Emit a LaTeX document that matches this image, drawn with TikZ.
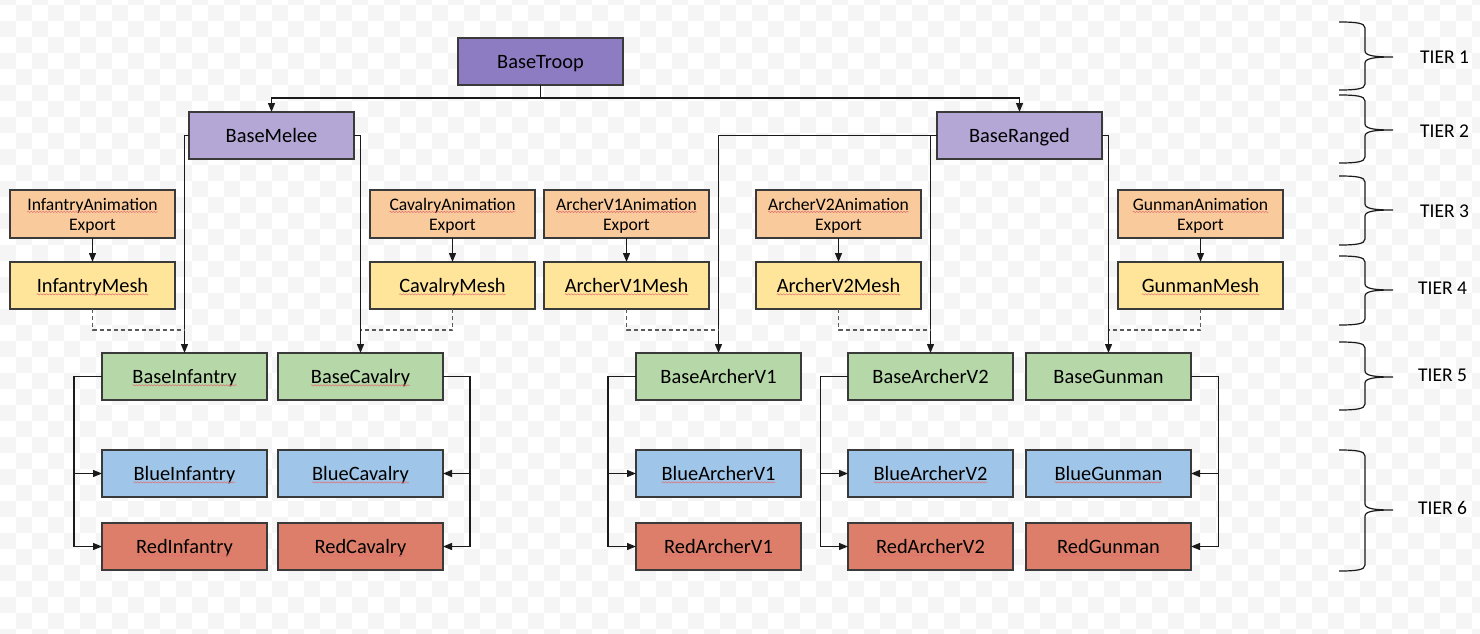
\documentclass[tikz,border=0pt]{standalone}
\usepackage{fontspec}
\setmainfont{Carlito}
\usetikzlibrary{arrows.meta,decorations.pathmorphing}
\definecolor{cTroop}{HTML}{8E7CC3}
\definecolor{cMid}{HTML}{B4A7D6}
\definecolor{cAnim}{HTML}{F9CB9C}
\definecolor{cMesh}{HTML}{FFE599}
\definecolor{cBase}{HTML}{B6D7A8}
\definecolor{cBlue}{HTML}{9FC5E8}
\definecolor{cRed}{HTML}{DD7E6B}
\definecolor{bordc}{HTML}{3A3A3A}
\definecolor{linec}{HTML}{1A1A1A}
\definecolor{dashc}{HTML}{5A5A5A}
\definecolor{bgsqc}{HTML}{F5F5F5}
\definecolor{squigc}{HTML}{E07070}
\newcommand\sq[1]{\tikz[baseline=(sqt.base)]{\node[inner sep=0pt,outer sep=0pt,draw=none,fill=none,minimum width=0pt,minimum height=0pt,text depth=,text height=,anchor=center](sqt){#1};\draw[squigc,line width=0.5pt,decorate,decoration={snake,amplitude=0.7pt,segment length=3pt}]([yshift=-1.8pt]sqt.base west)--([yshift=-1.8pt]sqt.base east);}}
\newcommand\tierbrace[3]{%
  \draw[brc] (1339,#1) .. controls (1356,#1) and (1365,#1+1) .. (1365,#1+6)
    -- (1365,#2-6) .. controls (1365,#2-1) and (1376,#2) .. (1393,#2)
    .. controls (1376,#2) and (1365,#2+1) .. (1365,#2+6)
    -- (1365,#3-6) .. controls (1365,#3-1) and (1356,#3) .. (1339,#3);}
\begin{document}
\begin{tikzpicture}[x=1pt,y=-1pt,
  box/.style={draw=bordc,line width=1.2pt,minimum width=165pt,minimum height=47pt,inner sep=0pt,outer sep=0pt,anchor=north west,text=black,text depth=0pt,font=\fontsize{20.4}{22}\selectfont},
  smallbox/.style={box,minimum height=48pt,align=center,text depth=0pt,font=\fontsize{17.6}{20}\selectfont},
  conn/.style={draw=linec,line width=1.2pt},
  arr/.style={conn,-{Triangle[length=9pt,width=7pt]}},
  dsh/.style={draw=dashc,line width=1.3pt,dash pattern=on 4pt off 3pt},
  brc/.style={draw=linec,line width=1.2pt},
  tier/.style={anchor=west,inner sep=0pt,text=black,font=\fontsize{19.5}{20}\selectfont},
  bgsq/.style={fill=bgsqc}]
\useasboundingbox (0,0) rectangle (1480,634);
\begin{scope}
\clip (0,0) rectangle (1480,634);
\fill[white] (0,0) rectangle (1480,634);
\foreach \r in {0,...,40}{
  \pgfmathtruncatemacro{\s}{mod(\r,2)}
  \foreach \c in {0,2,...,92}{
    \fill[bgsq] ({16*(\c+\s)},{-11+16*\r}) rectangle ++(16,16);
  }
}
\end{scope}

% Tier 1-2
\node[box,fill=cTroop] (bt) at (458,38) {BaseTroop};
\node[box,fill=cMid] (bm) at (189,112) {BaseMelee};
\node[box,fill=cMid] (br) at (937,112) {BaseRanged};
% Tier 3
\node[smallbox,fill=cAnim] (ia) at (10,190) {\sq{InfantryAnimation}\\Export};
\node[smallbox,fill=cAnim] (ca) at (370,190) {\sq{CavalryAnimation}\\Export};
\node[smallbox,fill=cAnim] (a1a) at (544,190) {\sq{ArcherV1Animation}\\Export};
\node[smallbox,fill=cAnim] (a2a) at (756,190) {\sq{ArcherV2Animation}\\Export};
\node[smallbox,fill=cAnim] (ga) at (1118,190) {\sq{GunmanAnimation}\\Export};
% Tier 4
\node[box,fill=cMesh] (im) at (10,262) {\sq{InfantryMesh}};
\node[box,fill=cMesh] (cm) at (370,262) {\sq{CavalryMesh}};
\node[box,fill=cMesh] (a1m) at (544,262) {\sq{ArcherV1Mesh}};
\node[box,fill=cMesh] (a2m) at (756,262) {\sq{ArcherV2Mesh}};
\node[box,fill=cMesh] (gm) at (1118,262) {\sq{GunmanMesh}};
% Tier 5
\node[box,fill=cBase] (bi) at (102,353) {\sq{BaseInfantry}};
\node[box,fill=cBase] (bc) at (278,353) {\sq{BaseCavalry}};
\node[box,fill=cBase] (ba1) at (636,353) {BaseArcherV1};
\node[box,fill=cBase] (ba2) at (848,353) {BaseArcherV2};
\node[box,fill=cBase] (bg) at (1026,353) {BaseGunman};
% Tier 6
\node[box,fill=cBlue] (bli) at (102,450) {\sq{BlueInfantry}};
\node[box,fill=cBlue] (blc) at (278,450) {\sq{BlueCavalry}};
\node[box,fill=cBlue] (bla1) at (636,450) {\sq{BlueArcherV1}};
\node[box,fill=cBlue] (bla2) at (848,450) {\sq{BlueArcherV2}};
\node[box,fill=cBlue] (blg) at (1026,450) {\sq{BlueGunman}};
\node[box,fill=cRed] (ri) at (102,523) {\sq{RedInfantry}};
\node[box,fill=cRed] (rc) at (278,523) {\sq{RedCavalry}};
\node[box,fill=cRed] (ra1) at (636,523) {\sq{RedArcherV1}};
\node[box,fill=cRed] (ra2) at (848,523) {\sq{RedArcherV2}};
\node[box,fill=cRed] (rg) at (1026,523) {\sq{RedGunman}};

% Tier 1 -> 2
\coordinate (tj) at (540.5,98);
\draw[conn] (bt.south) -- (tj);
\draw[arr] (tj) -| (bm.north);
\draw[arr] (tj) -| (br.north);

% Tier 2 -> 5
\draw[arr] (bm.west) -| (bi.north);
\draw[arr] (bm.east) -| (bc.north);
\draw[arr] (br.west) -| (ba1.north);
\draw[arr] (br.west) -| (ba2.north);
\draw[arr] (br.east) -| (bg.north);

% Tier 3 -> 4
\foreach \a/\m in {ia/im,ca/cm,a1a/a1m,a2a/a2m,ga/gm}{
  \draw[arr] (\a.south) -- (\m.north);
}

% Tier 4 dashed
\draw[dsh] (im.south) |- (bi.north |- 0,330);
\draw[dsh] (cm.south) |- (bc.north |- 0,330);
\draw[dsh] (a1m.south) |- (ba1.north |- 0,330);
\draw[dsh] (a2m.south) |- (ba2.north |- 0,330);
\draw[dsh] (gm.south) |- (bg.north |- 0,330);

% Tier 5 -> 6
\coordinate (li) at (74,0);
\coordinate (lc) at (470,0);
\coordinate (la1) at (608,0);
\coordinate (la2) at (820.5,0);
\coordinate (lg) at (1218.5,0);
\draw[arr] (bi.west) -- (bi.west -| li) |- (ri.west);
\draw[arr] (li |- bli.west) -- (bli.west);
\draw[arr] (bc.east) -- (bc.east -| lc) |- (rc.east);
\draw[arr] (lc |- blc.east) -- (blc.east);
\draw[arr] (ba1.west) -- (ba1.west -| la1) |- (ra1.west);
\draw[arr] (la1 |- bla1.west) -- (bla1.west);
\draw[arr] (ba2.west) -- (ba2.west -| la2) |- (ra2.west);
\draw[arr] (la2 |- bla2.west) -- (bla2.west);
\draw[arr] (bg.east) -- (bg.east -| lg) |- (rg.east);
\draw[arr] (lg |- blg.east) -- (blg.east);

% Tier braces
\tierbrace{22}{57}{90}
\tierbrace{95}{130}{163}
\tierbrace{176}{210}{245}
\tierbrace{256}{290}{325}
\tierbrace{342}{377}{410}
\tierbrace{450}{510}{571}
\node[tier] (t1) at (1420,57) {TIER 1};
\node[tier] (t2) at (1420,131) {TIER 2};
\node[tier] (t3) at (1420,211) {TIER 3};
\node[tier] (t4) at (1418,288) {TIER 4};
\node[tier] (t5) at (1418,375) {TIER 5};
\node[tier] (t6) at (1418,508) {TIER 6};
\end{tikzpicture}
\end{document}
